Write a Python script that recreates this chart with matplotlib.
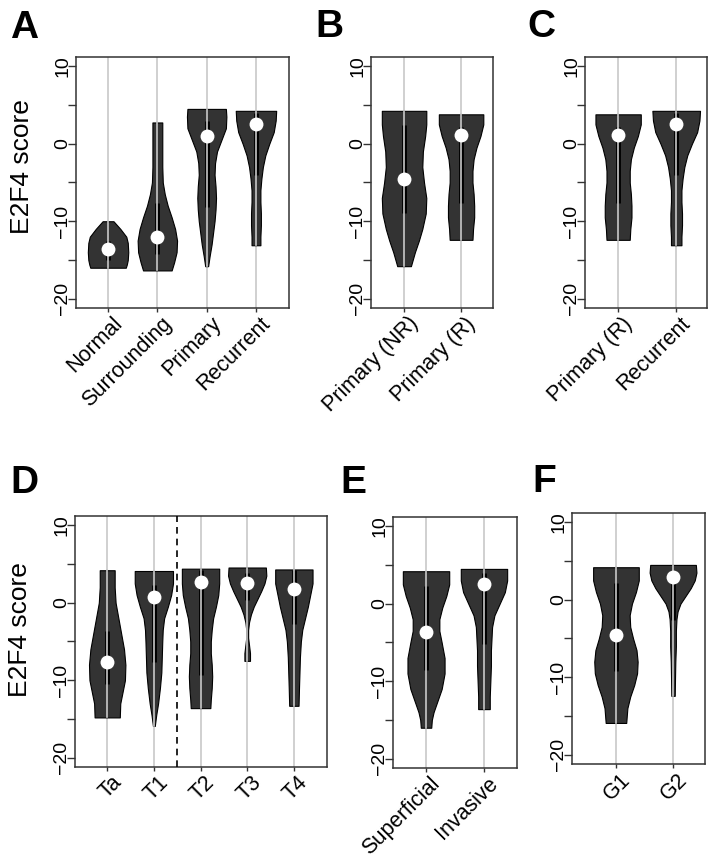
import matplotlib.pyplot as plt
import matplotlib.transforms as mtrans
import numpy as np

plt.rcParams['font.family'] = ['Liberation Sans', 'DejaVu Sans']

# ---- panel A
a_names = ['Normal', 'Surrounding', 'Primary', 'Recurrent']
a_med = [-13.6, -12.0, 1.0, 2.6]
a_q3 = [-12.5, -7.6, 3.0, 4.0]
a_q1 = [-15.0, -14.2, -8.1, -4.0]
normal_y = [-10.0, -11.0, -12.0, -12.8, -14.0, -15.0, -15.6, -16.0]
normal_w = [0.11, 0.25, 0.37, 0.40, 0.41, 0.40, 0.38, 0.36]
surr_y = [2.75, 0.0, -3.0, -5.0, -6.5, -8.0, -9.5, -11.0, -12.5, -14.0, -15.3, -16.35]
surr_w = [0.10, 0.10, 0.10, 0.11, 0.15, 0.21, 0.29, 0.36, 0.40, 0.39, 0.34, 0.29]
prim_y = [4.5, 3.5, 2.0, 0.5, -1.0, -2.5, -4.0, -5.5, -7.0, -8.5, -10.0, -11.5, -13.0, -14.5, -15.8]
prim_w = [0.39, 0.40, 0.39, 0.30, 0.21, 0.17, 0.16, 0.18, 0.19, 0.18, 0.16, 0.13, 0.10, 0.06, 0.03]
rec_y = [4.25, 3.0, 1.5, 0.0, -1.5, -3.0, -4.5, -6.0, -7.5, -9.0, -10.5, -12.0, -13.1]
rec_w = [0.41, 0.40, 0.36, 0.27, 0.19, 0.14, 0.11, 0.09, 0.09, 0.10, 0.10, 0.09, 0.09]

# ---- panel B
b_names = ['Primary (NR)', 'Primary (R)']
b_med = [-4.5, 1.1]
b_q3 = [2.4, 2.2]
b_q1 = [-9.0, -7.7]
pnr_y = [4.25, 2.5, 1.0, -1.0, -3.0, -5.0, -7.0, -9.0, -11.0, -12.5, -14.0, -15.8]
pnr_w = [0.39, 0.39, 0.37, 0.33, 0.32, 0.35, 0.39, 0.38, 0.32, 0.26, 0.19, 0.12]
pr_y = [3.8, 2.5, 1.0, -0.5, -2.0, -3.5, -5.0, -6.5, -8.0, -9.5, -11.0, -12.4]
pr_w = [0.39, 0.39, 0.34, 0.27, 0.22, 0.20, 0.20, 0.22, 0.23, 0.23, 0.21, 0.20]

# ---- panel C
c_names = ['Primary (R)', 'Recurrent']
c_med = [1.1, 2.6]
c_q3 = [2.2, 4.0]
c_q1 = [-7.7, -4.0]

# ---- panel D
d_names = ['Ta', 'T1', 'T2', 'T3', 'T4']
d_med = [-7.6, 0.7, 2.7, 2.6, 1.8]
d_q3 = [-3.7, 2.3, 4.2, 3.8, 4.2]
d_q1 = [-10.5, -7.6, -9.3, 0.4, -2.7]
ta_y = [4.2, 2.0, 0.0, -2.0, -4.0, -6.0, -8.0, -10.0, -11.5, -13.0, -14.8]
ta_w = [0.16, 0.16, 0.18, 0.24, 0.30, 0.36, 0.39, 0.38, 0.33, 0.28, 0.27]
t1_y = [4.1, 2.5, 1.0, -0.5, -2.0, -3.5, -5.0, -7.0, -9.0, -11.0, -13.0, -14.5, -15.9]
t1_w = [0.41, 0.41, 0.37, 0.30, 0.22, 0.19, 0.18, 0.17, 0.16, 0.13, 0.09, 0.05, 0.02]
t2_y = [4.4, 2.5, 1.0, -0.5, -2.0, -3.5, -5.0, -6.5, -8.0, -9.5, -11.0, -12.5, -13.6]
t2_w = [0.40, 0.40, 0.38, 0.33, 0.27, 0.24, 0.22, 0.22, 0.24, 0.25, 0.24, 0.22, 0.21]
t3_y = [4.55, 3.5, 2.5, 1.5, 0.5, -0.5, -1.5, -2.5, -3.5, -4.5, -5.5, -6.5, -7.5]
t3_w = [0.40, 0.41, 0.37, 0.30, 0.22, 0.14, 0.08, 0.04, 0.02, 0.02, 0.04, 0.06, 0.06]
t4_y = [4.3, 2.5, 1.0, -0.5, -2.0, -3.5, -5.0, -7.0, -9.0, -11.0, -13.3]
t4_w = [0.40, 0.40, 0.35, 0.30, 0.24, 0.18, 0.15, 0.13, 0.12, 0.11, 0.10]

# ---- panel E
e_names = ['Superficial', 'Invasive']
e_med = [-3.7, 2.6]
e_q3 = [2.3, 4.0]
e_q1 = [-8.6, -5.2]
sup_y = [4.2, 2.5, 1.0, -0.5, -2.0, -3.5, -5.0, -7.0, -9.0, -11.0, -12.5, -14.0, -15.0, -16.0]
sup_w = [0.40, 0.40, 0.35, 0.28, 0.23, 0.23, 0.27, 0.32, 0.32, 0.27, 0.20, 0.13, 0.10, 0.09]
inv_y = [4.5, 3.0, 1.5, 0.0, -1.5, -3.0, -4.5, -6.0, -8.0, -10.0, -12.0, -13.6]
inv_w = [0.40, 0.40, 0.36, 0.27, 0.18, 0.14, 0.13, 0.12, 0.12, 0.11, 0.10, 0.10]

# ---- panel F
f_names = ['G1', 'G2']
f_med = [-4.5, 2.9]
f_q3 = [2.1, 3.6]
f_q1 = [-9.2, -2.6]
g1_y = [4.2, 2.5, 1.0, -0.5, -2.0, -3.5, -5.0, -6.5, -8.0, -9.5, -11.0, -12.5, -14.0, -15.9]
g1_w = [0.40, 0.40, 0.35, 0.28, 0.24, 0.25, 0.30, 0.36, 0.38, 0.37, 0.32, 0.25, 0.20, 0.18]
g2_y = [4.5, 3.5, 2.5, 1.5, 0.5, -0.5, -1.5, -2.5, -4.0, -6.0, -8.0, -10.0, -12.4]
g2_w = [0.40, 0.41, 0.38, 0.31, 0.22, 0.13, 0.08, 0.06, 0.05, 0.05, 0.04, 0.035, 0.03]

W, H = 719, 859
fig = plt.figure(figsize=(W / 100, H / 100), dpi=100)
# rotated category labels sit a bit right of / below their ticks (R text(srt=45) style)
lab_off = mtrans.ScaledTranslation(0.11, -0.125, fig.dpi_scale_trans)


def px_rect(l, t, r, b):
    return [l / W, 1 - b / H, (r - l) / W, (b - t) / H]


def panel(box, names, med, q1, q3, ys, ws, xlim):
    ax = fig.add_axes(px_rect(*box))
    for i in range(len(names)):
        p = i + 1
        y = np.array(ys[i])
        w = np.array(ws[i])
        ax.axvline(p, color='#c8c8c8', lw=1.2, zorder=0)
        ax.fill_betweenx(y, p - w, p + w, facecolor='#333333', edgecolor='black', lw=0.8, zorder=1)
        ax.plot([p, p], [q1[i], q3[i]], color='black', lw=3.5, solid_capstyle='butt', zorder=2)
        ax.plot([p, p], [y.min(), y.max()], color='#c8c8c8', lw=1.2, zorder=3)
        ax.plot(p, med[i], 'o', color='white', ms=10, mec='none', zorder=4)
        ax.text(p, 0, names[i], transform=ax.get_xaxis_transform() + lab_off,
                rotation=45, ha='right', va='center', rotation_mode='anchor', fontsize=15.5)
    ax.set_xlim(*xlim)
    ax.set_ylim(-21.2, 11.2)
    ax.set_yticks([-20, -15, -10, -5, 0, 5, 10])
    ax.set_yticklabels(['\u221220', '', '\u221210', '', '0', '', '10'], rotation=90, va='center')
    ax.set_xticks(range(1, len(names) + 1))
    ax.set_xticklabels([])
    ax.tick_params(axis='y', direction='out', length=6, width=1, labelsize=14, pad=-2.5, color='#333333')
    ax.tick_params(axis='x', direction='out', length=3, width=1, color='#333333')
    for s in ax.spines.values():
        s.set_linewidth(1.1)
        s.set_color('#333333')
    return ax


panel((76, 57, 289, 308), a_names, a_med, a_q1, a_q3,
      [normal_y, surr_y, prim_y, rec_y], [normal_w, surr_w, prim_w, rec_w], (0.35, 4.67))
panel((371, 57, 493, 308), b_names, b_med, b_q1, b_q3,
      [pnr_y, pr_y], [pnr_w, pr_w], (0.42, 2.56))
panel((585, 57, 707, 308), c_names, c_med, c_q1, c_q3,
      [pr_y, rec_y], [pr_w, rec_w], (0.43, 2.53))
axd = panel((75, 516, 327, 767), d_names, d_med, d_q1, d_q3,
            [ta_y, t1_y, t2_y, t3_y, t4_y], [ta_w, t1_w, t2_w, t3_w, t4_w], (0.31, 5.71))
axd.axvline(2.5, color='black', lw=1.2, ls=(0, (4, 3)), zorder=5)
panel((393, 517, 517, 768), e_names, e_med, e_q1, e_q3,
      [sup_y, inv_y], [sup_w, inv_w], (0.43, 2.57))
panel((572, 513, 705, 764), f_names, f_med, f_q1, f_q3,
      [g1_y, g2_y], [g1_w, g2_w], (0.23, 2.56))

for lab, x, y in [('A', 10, 38), ('B', 315, 37), ('C', 527, 37),
                  ('D', 10, 493), ('E', 340, 493), ('F', 532, 492)]:
    fig.text(x / W, 1 - y / H, lab, fontsize=28, fontweight='bold', va='baseline', ha='left')

fig.text(22 / W, 1 - 167 / H, 'E2F4 score', fontsize=19, rotation=90, va='center', ha='center')
fig.text(20 / W, 1 - 630 / H, 'E2F4 score', fontsize=19, rotation=90, va='center', ha='center')

fig.savefig('out.png', dpi=100)
